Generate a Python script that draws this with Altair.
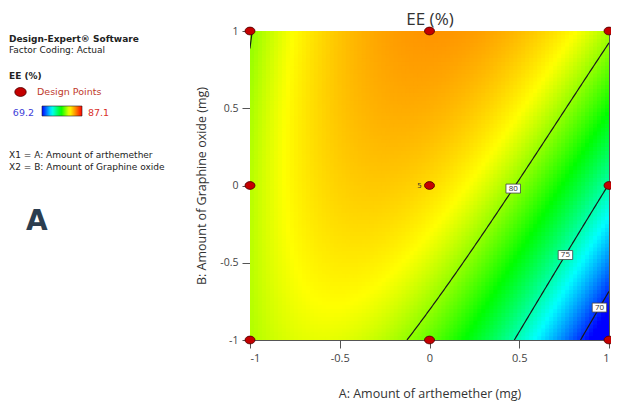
import altair as alt
import numpy as np
import pandas as pd

# ---- data ----
# fitted EE (%) surface at the 3x3 design nodes (rows B = 1, 0, -1 ; cols A = -1, 0, 1)
node_levels = [-1.0, 0.0, 1.0]
ee_B_pos1 = [79.9, 84.0, 80.34]
ee_B_zero = [80.5, 82.4, 74.93]
ee_B_neg1 = [80.4, 79.27, 67.4]

contour_levels = [80, 75, 70]
contour_label_B = [-0.02, -0.45, -0.79]

design_A = [-1, 0, 1, -1, 0, 1, -1, 0, 1]
design_B = [1, 1, 1, 0, 0, 0, -1, -1, -1]
design_runs = ["", "", "", "", "5", "", "", "", ""]

tick_values = [-1, -0.5, 0, 0.5, 1]
ee_min, ee_max = 69.2, 87.1

# ---- surface evaluation (biquadratic through the nodes) ----
V = np.array([ee_B_neg1, ee_B_zero, ee_B_pos1])  # index [B node][A node]


def lag(t):
    t = np.asarray(t, dtype=float)
    return np.stack([t * (t - 1) / 2, 1 - t ** 2, t * (t + 1) / 2])


def surface(a, b):
    la, lb = lag(a), lag(b)
    return np.einsum("j...,ji,i...->...", lb, V, la)


nA, nB = 90, 80
ea = np.linspace(-1, 1, nA + 1)
eb = np.linspace(-1, 1, nB + 1)
da, db = ea[1] - ea[0], eb[1] - eb[0]
ca = (ea[:-1] + ea[1:]) / 2
cb = (eb[:-1] + eb[1:]) / 2
AA, BB = np.meshgrid(ca, cb)
A0, B0 = np.meshgrid(ea[:-1], eb[:-1])
heat = pd.DataFrame({
    "a": A0.ravel(), "a2": A0.ravel() + 1.35 * da,
    "b": B0.ravel(), "b2": B0.ravel() + 1.35 * db,
    "ee": surface(AA.ravel(), BB.ravel()),
})


def contour_A(level, b):
    c = (lag(b)[:, None] * V).sum(axis=0)  # values at A nodes for this B
    a2 = c[0] / 2 - c[1] + c[2] / 2
    a1 = (c[2] - c[0]) / 2
    a0 = c[1] - level
    roots = np.roots([a2, a1, a0])
    return sorted(r.real for r in roots if abs(r.imag) < 1e-9 and -1.0005 <= r.real <= 1.0005)


rows = []
for lev in contour_levels:
    for b in np.linspace(-1, 1, 1201):
        for r in contour_A(lev, b):
            branch = "L" if r < -0.5 else "R"
            rows.append({"A": min(max(r, -1), 1), "B": b, "line": f"{lev}{branch}"})
lines = pd.DataFrame(rows)

labels = pd.DataFrame({
    "A": [contour_A(l, b)[-1] for l, b in zip(contour_levels, contour_label_B)],
    "B": contour_label_B,
    "txt": [str(l) for l in contour_levels],
})

pts = pd.DataFrame({"A": design_A, "B": design_B, "runs": design_runs})

# ---- scales ----
xs = alt.Scale(domain=[-1, 1], nice=False, zero=False, padding=0)
ys = alt.Scale(domain=[-1, 1], nice=False, zero=False, padding=0)
cs = alt.Scale(
    domain=[ee_min, 73.6, 77.8, 81.6, 84.2, ee_max],
    range=["#0000ff", "#00ffff", "#00ff00", "#ffff00", "#ff8c00", "#ff0000"],
    interpolate="rgb", clamp=True,
)

lab_expr = "'' + datum.value"
x_axis = alt.Axis(values=tick_values, labelExpr=lab_expr, title="A: Amount of arthemether (mg)",
                  grid=False, domain=False, tickSize=8, tickColor="#555", labelPadding=4,
                  labelFont="Open Sans", labelFontSize=11, labelColor="#444",
                  titleFont="Open Sans", titleFontSize=12.5, titleFontWeight="normal",
                  titleColor="#333", titlePadding=24)
y_axis = alt.Axis(values=tick_values, labelExpr=lab_expr, title="B: Amount of Graphine oxide (mg)",
                  grid=False, domain=False, tickSize=8, tickColor="#555", labelPadding=4,
                  labelFont="Open Sans", labelFontSize=10.5, labelColor="#444",
                  titleFont="Open Sans", titleFontSize=12.5, titleFontWeight="normal",
                  titleColor="#333", titlePadding=11)

heat_layer = alt.Chart(heat).mark_rect(clip=True).encode(
    x=alt.X("a:Q", scale=xs, axis=x_axis),
    x2="a2:Q",
    y=alt.Y("b:Q", scale=ys, axis=y_axis),
    y2="b2:Q",
    color=alt.Color("ee:Q", scale=cs, legend=alt.Legend(
        type="gradient", orient="none", legendX=-208, legendY=75, direction="horizontal",
        gradientLength=40, gradientThickness=10, title=None, labelOpacity=0,
        padding=0, gradientStrokeColor="#222", gradientStrokeWidth=0.6)),
)

line_layer = alt.Chart(lines).mark_line(color="#1a1a1a", strokeWidth=1.2, clip=True).encode(
    x=alt.X("A:Q", scale=xs), y=alt.Y("B:Q", scale=ys), detail="line:N", order="B:Q",
)

box_layer = alt.Chart(labels).mark_point(
    shape="M-1,-0.62H1V0.62H-1Z", size=210, filled=True, fill="white", stroke="#444",
    strokeWidth=0.8, opacity=1,
).encode(x=alt.X("A:Q", scale=xs), y=alt.Y("B:Q", scale=ys))

txt_layer = alt.Chart(labels).mark_text(font="Open Sans", fontSize=8, color="#333").encode(
    x=alt.X("A:Q", scale=xs), y=alt.Y("B:Q", scale=ys), text="txt:N",
)

ellipse = "M-1,0A1,0.78,0,1,0,1,0A1,0.78,0,1,0,-1,0Z"
pt_layer = alt.Chart(pts).mark_point(
    shape=ellipse, size=100, filled=True, fill="#c40000", stroke="#4a0000",
    strokeWidth=0.8, opacity=1,
).encode(x=alt.X("A:Q", scale=xs), y=alt.Y("B:Q", scale=ys))

run_layer = alt.Chart(pts).mark_text(font="DejaVu Sans", fontSize=7, color="#333", dx=-10).encode(
    x=alt.X("A:Q", scale=xs), y=alt.Y("B:Q", scale=ys), text="runs:N",
)

# ---- titles / annotations (plot-relative pixel positions) ----
bold_texts = pd.DataFrame({"t": ["Design-Expert® Software", "EE (%)"], "x": [-241, -241], "y": [10.5, 48]})
norm_texts = pd.DataFrame({
    "t": ["Factor Coding: Actual", "X1 = A: Amount of arthemether", "X2 = B: Amount of Graphine oxide"],
    "x": [-241, -241, -241], "y": [22, 127, 139],
})
side_bold = alt.Chart(bold_texts).mark_text(
    font="DejaVu Sans", fontSize=9, fontWeight="bold", align="left", baseline="alphabetic", color="#222",
).encode(x=alt.X("x:Q", scale=None), y=alt.Y("y:Q", scale=None), text="t:N")
side_norm = alt.Chart(norm_texts).mark_text(
    font="DejaVu Sans", fontSize=9, align="left", baseline="alphabetic", color="#222",
).encode(x=alt.X("x:Q", scale=None), y=alt.Y("y:Q", scale=None), text="t:N")

one = pd.DataFrame({"k": [0]})
title_layer = alt.Chart(one).mark_text(
    text="EE (%)", font="Open Sans", fontSize=17, color="#333", baseline="alphabetic",
).encode(x=alt.value(180), y=alt.value(-6))

legend_dot = alt.Chart(one).mark_point(
    shape=ellipse, size=130, filled=True, fill="#c40000", stroke="#4a0000",
    strokeWidth=0.8, opacity=1,
).encode(x=alt.value(-229.5), y=alt.value(61))
legend_dp = alt.Chart(one).mark_text(
    text="Design Points", font="DejaVu Sans", fontSize=9.5, color="#c0392b",
    align="left", baseline="alphabetic",
).encode(x=alt.value(-213), y=alt.value(64))
lo_txt = alt.Chart(one).mark_text(
    text=str(ee_min), font="DejaVu Sans", fontSize=9.5, color="#4040d8",
    align="right", baseline="alphabetic",
).encode(x=alt.value(-216), y=alt.value(85))
hi_txt = alt.Chart(one).mark_text(
    text=str(ee_max), font="DejaVu Sans", fontSize=9.5, color="#d9312a",
    align="left", baseline="alphabetic",
).encode(x=alt.value(-162), y=alt.value(85))
big_a = alt.Chart(one).mark_text(
    text="A", font="DejaVu Sans", fontSize=28, fontWeight="bold", color="#2c3e50",
    align="left", baseline="alphabetic",
).encode(x=alt.value(-224), y=alt.value(199))

chart = alt.layer(
    heat_layer, line_layer, box_layer, txt_layer, pt_layer, run_layer,
    side_bold, side_norm, title_layer, legend_dot, legend_dp, lo_txt, hi_txt, big_a,
).properties(
    width=359, height=309,
    autosize=alt.AutoSizeParams(type="none"),
    padding={"left": 242, "top": 23, "right": 2, "bottom": 61},
    background="white",
).configure_view(stroke="#555", strokeWidth=1)

chart.save("out.html", embed_options={"renderer": "svg", "actions": False})
